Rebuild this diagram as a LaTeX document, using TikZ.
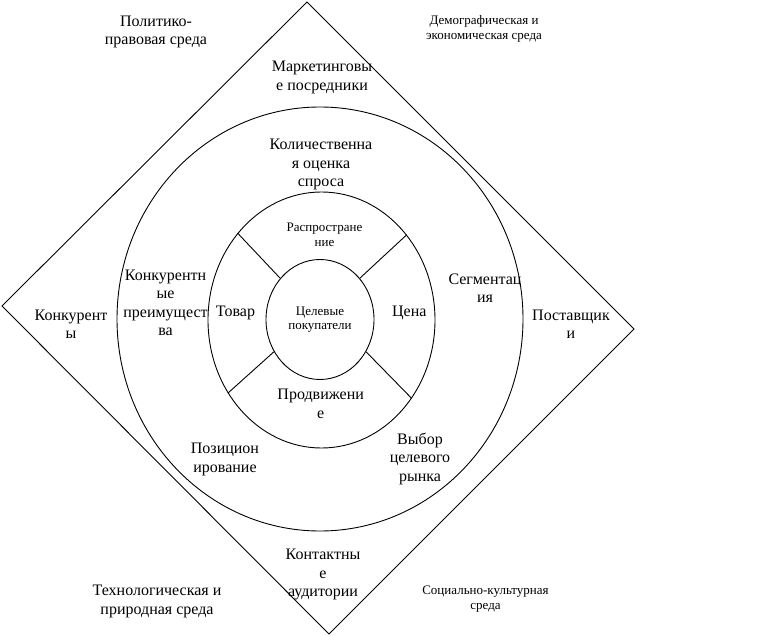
\documentclass[tikz,border=0pt]{standalone}
\usepackage{fontspec}
\setmainfont{Liberation Serif}
\usetikzlibrary{shapes.geometric}
\begin{document}
\begin{tikzpicture}[x=1pt, y=-1pt, line width=.9pt,
    every node/.style={align=center, inner sep=0pt,
                       font=\fontsize{16}{18.5}\selectfont},
    small/.style={font=\fontsize{13}{14.5}\selectfont},
    ring/.style={draw, shape=ellipse}]
  \useasboundingbox (0,0) rectangle (771,636);
  % the square
  \coordinate (top) at (307,2);
  \coordinate (right) at (634,329);
  \coordinate (bottom) at (329,634);
  \coordinate (left) at (2,306);
  \draw (top) -- (right) -- (bottom) -- (left) -- cycle;
  % rings
  \node[ring, minimum width=406pt, minimum height=424pt] (outer) at (320,319) {};
  \node[ring, minimum width=227pt, minimum height=256pt] (mid) at (321.5,320) {};
  \node[ring, small, minimum width=108pt, minimum height=120pt] (inner) at (320,319.5) {Целевые\\покупатели};
  \draw (inner.134) -- (mid.134);
  \draw (inner.46) -- (mid.45);
  \draw (inner.215) -- (mid.218);
  \draw (inner.325) -- (mid.319);
  % labels
  \node (polit) at (156,32) {Политико-\\правовая среда};
  \node[small] (demog) at (484,29) {Демографическая и\\экономическая среда};
  \node (posred) at (322,77.5) {Маркетинговы\\е посредники};
  \node (spros) at (321,164.5) {Количественна\\я оценка\\спроса};
  \node[small] (rasp) at (324.5,235) {Распростране\\ние};
  \node (tovar) at (235.5,312.7) {Товар};
  \node (cena) at (409.3,312.7) {Цена};
  \node (prod) at (320.7,404) {Продвижени\\е};
  \node (konkpr) at (165.5,303) {Конкурентн\\ые\\преимущест\\ва};
  \node (segm) at (485,288) {Сегментац\\ия};
  \node (konk) at (71,324.5) {Конкурент\\ы};
  \node (post) at (571,324.5) {Поставщик\\и};
  \node (pozic) at (225,459.5) {Позицион\\ирование};
  \node (vybor) at (420,458.7) {Выбор\\целевого\\рынка};
  \node (kontakt) at (323,574.5) {Контактны\\е\\аудитории};
  \node (tehn) at (157,601.7) {Технологическая и\\природная среда};
  \node[small] (soc) at (485.5,599) {Социально-культурная\\среда};
\end{tikzpicture}
\end{document}
